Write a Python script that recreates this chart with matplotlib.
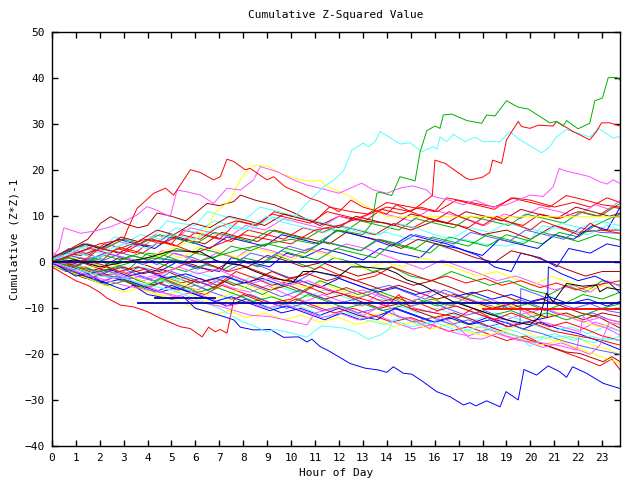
import numpy as np
import matplotlib
matplotlib.use("Agg")
import matplotlib.pyplot as plt

# gnuplot-like palette
RED = '#ff0000'
GRN = '#00b000'
BLU = '#0000ff'
MAG = '#ff50ff'
CYN = '#50ffff'
DRD = '#b00000'
YEL = '#ffff00'
LBL = '#5a5aff'
BLK = '#000000'
DBL = '#0000a8'

hour_ticks = list(range(0, 24))
value_ticks = list(range(-40, 51, 10))

# each series: (hour, cumulative value) vertices
green_top = [(0, 0), (2, -2), (4, 1), (6, 0), (8, 3), (10, 5), (11, 4), (12, 7), (13, 6),
             (13.37, 8.5), (13.58, 15.0), (13.72, 15.2), (14.2, 14.5), (14.55, 18.6), (15.18, 17.7),
             (15.39, 24.0), (15.67, 28.6), (16.01, 29.6), (16.22, 29.1), (16.36, 32.0), (16.71, 32.2),
             (17.34, 30.8), (17.96, 30.2), (18.17, 32.0), (18.52, 31.8), (19.0, 35.1), (19.49, 33.7),
             (19.91, 33.3), (20.81, 30.3), (21.09, 30.6), (21.37, 29.6), (21.51, 30.8), (21.99, 29.0),
             (22.48, 30.2), (22.69, 35.1), (23.01, 35.7), (23.25, 40.1), (23.6, 40.2), (23.73, 39.6)]
cyan_top = [(0, 0.5), (1, 2), (2, 1), (3, 4), (4, 3), (5, 6), (6, 5), (7, 8), (8, 7), (9, 10),
            (10, 9), (10.5, 12), (11.35, 16.4), (11.8, 17.9), (12.19, 19.9), (12.54, 24.4),
            (13.02, 25.9), (13.23, 25.1), (13.51, 26.2), (13.72, 28.4), (14.56, 25.7), (14.97, 26.0),
            (15.46, 24.0), (15.94, 25.1), (16.1, 24.6), (16.22, 27.2), (16.5, 26.2), (16.78, 27.8),
            (17.27, 26.2), (17.68, 27.2), (18.03, 26.2), (18.73, 26.2), (19.14, 28.4), (19.56, 26.6),
            (20.05, 25.1), (20.47, 23.8), (20.81, 25.1), (21.09, 27.3), (21.51, 28.8), (22.2, 27.7),
            (22.5, 27.2), (22.83, 29.1), (23.46, 27.0), (23.73, 27.3)]
red_top = [(0, 0), (1, -1), (2, 3), (3, 2), (4, 5), (5, 4), (6, 2), (7, 4), (8, 6), (9, 5),
           (10, 4), (11, 7), (12, 8), (13, 10), (14, 12), (15, 11), (15.9, 14.5), (16.01, 22.2),
           (16.43, 21.5), (17.3, 18.3), (17.5, 17.9), (18.0, 18.5), (18.3, 19.5), (18.42, 22.2),
           (18.8, 21.5), (19.0, 26.6), (19.49, 30.6), (19.63, 29.5), (19.98, 29.1), (20.33, 29.8),
           (20.95, 29.6), (21.09, 30.6), (21.79, 28.4), (22.48, 26.6), (22.76, 28.4), (22.97, 30.3),
           (23.32, 30.3), (23.73, 29.6)]
red_left_high = [(0, 0), (1, 2), (2, 4), (3, 5), (3.15, 7.0), (3.56, 11.7), (4.26, 15.0), (4.75, 16.1),
                 (5.09, 14.6), (5.79, 20.1), (6.21, 19.5), (6.76, 17.9), (7.04, 18.6), (7.32, 22.4),
                 (7.6, 21.9), (8.08, 20.1), (8.29, 20.4), (8.99, 17.9), (9.27, 18.6), (9.75, 16.4),
                 (10.38, 15.0), (10.79, 13.9), (11.21, 13.2), (12, 11), (12.5, 13.5), (13, 12),
                 (14, 10.5), (14.4, 12.5), (15, 11), (16, 9), (16.6, 11), (17, 10), (18, 8), (18.6, 10),
                 (19, 9), (20, 7), (20.5, 9), (21, 8), (22, 6), (22.5, 8.5), (23, 7), (23.75, 6.3)]
magenta_high = [(0, 1), (0.3, 3), (0.5, 7.5), (1.2, 6.3), (1.8, 6.8), (2.45, 7.7), (3.15, 9.2),
                (3.56, 10.3), (3.98, 12.1), (4.3, 11.5), (4.95, 9.9), (5.23, 15.7), (5.65, 15.3),
                (6.21, 14.6), (6.76, 12.8), (7.32, 16.1), (7.88, 15.7), (8.43, 17.9), (8.71, 20.8),
                (9.41, 19.7), (10.1, 17.9), (10.66, 16.8), (11.21, 16.1), (12.0, 15.0), (12.95, 17.2),
                (13.44, 15.7), (14.0, 15.0), (14.6, 16.2), (15.1, 16.6), (15.67, 15.7), (15.94, 14.3),
                (16.6, 13.5), (17.2, 12.5), (17.7, 13.5), (18.4, 12), (19.0, 12.5), (19.98, 14.6),
                (20.53, 14.3), (20.95, 16.4), (21.2, 20.4), (21.5, 19.8), (21.93, 19.3), (22.48, 18.6),
                (22.9, 17.5), (23.2, 17.0), (23.46, 17.9), (23.73, 17.2)]
yellow_high = [(0, 0), (1, -1), (2, -1), (3, 0), (4, 1), (5, 3), (6, 5), (6.6, 8), (6.76, 10.7),
               (7.0, 11.5), (7.46, 13.5), (7.87, 17.9), (8.29, 20.8), (8.43, 21.0), (8.99, 21.0),
               (9.55, 19.3), (10.38, 17.9), (10.93, 17.5), (11.2, 17.9), (11.5, 16.5), (12.47, 14.3),
               (13.2, 12.0), (13.44, 11.4), (14.0, 9.9), (23.75, 9.9)]
blue_bottom = [(0, 0), (0.5, -1.5), (1, -3), (1.5, -2.5), (2, -4), (3, -6), (3.4, -5), (4, -7),
               (5, -8), (5.5, -7.5), (6, -10), (7, -11.5), (7.6, -12.5), (7.88, -14.1), (8.43, -14.7),
               (9.13, -14.6), (9.68, -16.3), (10.31, -16.2), (10.66, -17.3), (10.87, -16.7),
               (11.21, -18.3), (11.52, -19.1), (11.98, -20.5), (12.47, -22.0), (13.09, -23.0),
               (13.65, -23.4), (14.0, -23.9), (14.27, -22.7), (14.69, -24.1), (15.04, -24.3),
               (15.53, -26.0), (16.08, -28.1), (16.64, -29.2), (17.2, -31.0), (17.47, -30.5),
               (17.72, -31.2), (18.17, -30.1), (18.73, -31.4), (18.98, -28.1), (19.49, -29.9),
               (19.73, -23.3), (20.26, -24.5), (20.74, -22.5), (21.23, -23.8), (21.51, -25.0),
               (21.76, -22.7), (22.34, -24.1), (23.04, -26.3), (23.73, -27.4)]
red_low_left = [(0, -1), (0.5, -2.5), (1, -4), (1.5, -5), (2, -6.5), (2.31, -7.8), (2.87, -9.3),
                (3.42, -9.7), (3.98, -10.7), (4.54, -12.2), (5.37, -14.0), (5.79, -14.4), (6.28, -16.2),
                (6.55, -14.1), (6.83, -15.1), (7.04, -14.6), (7.32, -15.4), (7.6, -8.2), (8.0, -7),
                (9, -9), (10, -8), (11, -5), (11.5, -6), (13, -8), (14, -9.5), (14.5, -7), (15, -10),
                (16, -11), (17, -12), (17.6, -10), (19, -14), (20, -13), (21, -15), (22, -16),
                (23, -17), (23.75, -18)]
black_main = [(0, 0), (1, 0.5), (2, -1), (3, 0), (4, 1), (5, 2.5), (6.2, 2.3), (7, 0), (7.88, -0.6),
              (8.5, -2), (9.27, -3.5), (10.1, -4.2), (10.5, -2), (11, -2), (12, -3), (12.5, -1),
              (13, -1), (14, -1.5), (14.42, -2.4), (14.83, -3.8), (15.5, -5), (16.78, -8.6),
              (17.61, -10.0), (19.0, -12.5), (19.98, -13.6), (20.4, -11.8), (20.67, -6.7),
              (20.95, -8.6), (21.51, -4.6), (22.2, -5.2), (22.76, -4.9), (22.9, -6.4), (23.2, -5.5),
              (23.73, -6.0)]
cyan_low = [(0, 0), (1, -1.5), (2, -3), (3, -3.5), (4, -5), (5, -6), (6, -8), (7, -10), (7.88, -12.7),
            (8.43, -13.8), (8.99, -15.1), (9.3, -14.6), (9.96, -15.3), (10.66, -16.3), (10.94, -15.1),
            (11.28, -13.8), (12.19, -14.3), (12.68, -15.1), (13.23, -16.7), (13.72, -15.8),
            (14.06, -14.7), (14.27, -12.5), (15, -14), (16, -13), (17, -15), (18, -14), (19, -15.5),
            (19.56, -16.2), (19.98, -18.3), (20.5, -16.5), (21.5, -16), (22.2, -16.9), (22.7, -17.5),
            (23.1, -16.5), (23.73, -17)]
magenta_low = [(0, 0), (1, -2), (2, -3.5), (3, -5), (4, -6), (5, -7), (6, -8.5), (7, -9.5),
               (8.29, -11.5), (9.13, -11.8), (10.66, -13.6), (11.0, -11), (12.05, -9.7), (13.02, -11.5),
               (14.0, -8.9), (14.42, -11.8), (15.0, -12.2), (15.8, -14.4), (16.22, -11.8), (16.78, -13.3),
               (17.47, -16.5), (17.96, -16.7), (18.6, -15.5), (19.5, -17), (20.5, -17.5), (21.3, -18.2),
               (21.93, -19.1), (22.2, -11.8), (22.7, -13.5), (23.18, -14.3), (23.73, -15.8)]

# the rest of the bundle
darkred_a = [(0, 1), (0.8, 3), (1.5, 5), (2.04, 8.5), (2.45, 9.9), (3.0, 8.5), (3.6, 7.5), (4.0, 8),
             (4.4, 10.7), (5.0, 10), (5.6, 9), (6.49, 12.8), (7.0, 12.3), (7.6, 13.2), (7.88, 14.6),
             (8.5, 13.5), (9.3, 12.5), (10.0, 11), (10.6, 9.5), (11.2, 8), (12.0, 10), (13.0, 9),
             (14.0, 8.5), (15.0, 7), (16.0, 9), (17.0, 8), (18.0, 6), (19.0, 7), (20.0, 5), (21.0, 8),
             (22.0, 6.5), (23.0, 7), (23.75, 7)]
red_b = [(0, 0), (0.5, -1), (1.2, 1), (2, 0), (2.7, 3), (3.5, 2), (4.2, 5), (5, 4), (5.5, 7), (6.3, 6),
         (7, 5), (7.8, 9), (8.6, 8), (9.3, 11), (10, 10), (11, 9), (11.6, 12), (12.5, 11), (13.2, 10.5),
         (14, 13), (15, 12), (16, 11), (16.5, 14), (17.5, 13), (18.5, 12), (19.3, 14), (20, 13.5),
         (21, 12), (21.8, 13), (22.5, 12), (23.2, 14), (23.75, 13)]
cyan_c = [(0, 1), (0.7, 0), (1.3, 3), (2.0, 2), (2.6, 5.5), (3.2, 5), (4.0, 4), (4.8, 9), (5.3, 8.5),
          (6.0, 8), (6.5, 11), (7.2, 10), (8, 9), (8.7, 12), (9.5, 11), (10.2, 10), (11, 9), (11.8, 8),
          (12.5, 7), (13.3, 6), (14, 6.5), (15, 5), (15.8, 4.5), (16.5, 3), (17.2, 5), (18, 4),
          (19, 3.5), (20, 5), (20.5, 8), (21.5, 7), (22.4, 6), (23.2, 8), (23.75, 7)]
blue_d = [(0, 0), (0.6, -2), (1.4, -1), (2.1, -3), (3.0, -3.5), (3.6, -1), (4.5, -2), (5.2, 0),
          (6.0, -1), (7, -2), (7.5, 1), (8.3, 0), (9.1, -1), (9.8, 2), (10.5, 1), (11.3, 3), (12.1, 2),
          (13, 0.5), (13.7, 3), (14.5, 2), (15.4, 1), (16, 4), (17, 3), (17.8, 1.5), (18.5, -1),
          (19.2, -2), (19.6, 2), (20.4, 1), (21.1, -1), (21.6, 3), (22.5, 2), (23.2, 4), (23.75, 3.4)]
magenta_e = [(0, 0.5), (0.8, -1), (1.5, -2.5), (2.2, -1.5), (3, -3), (3.8, -4), (4.5, -3), (5.3, -5),
             (6.1, -6), (6.8, -4), (7.5, -5.5), (8.3, -6.5), (9, -5), (9.8, -7), (10.6, -8.5),
             (11.3, -7), (12.1, -8.5), (13, -9.5), (13.6, -7), (14.4, -8), (15.2, -10), (16, -11),
             (16.6, -9), (17.4, -10.5), (18.2, -12), (19, -12.5), (19.8, -11), (20.5, -13), (21.3, -14),
             (22, -15), (22.7, -13), (23.3, -14), (23.75, -15)]
green_f = [(0, 0), (0.9, -1.5), (1.6, 1), (2.4, 0), (3.2, -1.5), (4, 2), (4.7, 1.5), (5.5, 0),
           (6.2, 3), (7, 2), (7.9, 0.5), (8.6, -1), (9.4, 1.5), (10.2, 0), (11, -1.5), (11.8, 1),
           (12.6, 0), (13.4, -2), (14.2, -1), (15, -3), (15.9, -4), (16.7, -2), (17.5, -3.5),
           (18.3, -5), (19.1, -4), (20, -6), (20.8, -7), (21.5, -5), (22.3, -6.5), (23, -4), (23.75, -5)]
yellow_g = [(0, -1), (0.7, -2), (1.5, -3.5), (2.3, -5), (3.0, -4), (3.8, -6), (4.6, -7.5), (5.4, -6),
            (6.2, -8), (6.9, -9.5), (7.5, -8), (8.3, -9), (9, -7), (9.8, -8.5), (10.6, -10), (11.4, -9),
            (12.2, -10.5), (13, -12), (13.8, -11), (14.6, -12), (15.4, -13), (16.2, -11.5), (17, -13),
            (17.8, -14), (18.6, -15), (19.4, -14), (20.2, -16), (21, -17), (21.8, -16), (22.6, -18),
            (23.3, -19), (23.75, -20)]
darkred_h = [(0, 0), (0.5, 2), (1.2, 1.5), (2, 3), (2.8, 2), (3.5, 4), (4.2, 3.5), (4.9, 6), (5.6, 5),
             (6.4, 4), (7.1, 6.5), (7.8, 5.5), (8.6, 4.5), (9.3, 7), (10, 6), (10.8, 5), (11.6, 4),
             (12.3, 6.5), (13.1, 5.5), (13.9, 4.5), (14.6, 3), (15.3, 5), (16.1, 4), (16.9, 2.5),
             (17.7, 1), (18.5, 0), (19.2, 2.5), (20, 1.5), (20.8, 0), (21.5, -1.5), (22.3, -3), (23, -2),
             (23.75, -2)]
lightblue_i = [(0, 0.5), (0.7, 3), (1.4, 2), (2.2, 0.5), (2.9, 2), (3.7, 1), (4.4, -0.5), (5.1, 2),
               (5.9, 1), (6.6, -0.5), (7.3, -2), (8, 0), (8.8, -1), (9.5, -2.5), (10.3, -4), (11, -2),
               (11.8, -3), (12.5, -4.5), (13.3, -6), (14.1, -5), (14.8, -6.5), (15.6, -8), (16.4, -6),
               (17.2, -7.5), (18, -9), (18.8, -10), (19.5, -8), (20.3, -9.5), (21, -11), (21.8, -12),
               (22.6, -11), (23.3, -12.5), (23.75, -13)]
red_j = [(0, 0), (0.8, -2), (1.6, -3.5), (2.4, -2), (3.2, -4), (4, -5.5), (4.8, -4), (5.6, -6),
         (6.4, -7), (7.1, -5), (7.9, -6.5), (8.7, -8), (9.5, -9.5), (10.2, -8), (11, -9.5), (11.8, -11),
         (12.6, -10), (13.4, -11.5), (14.2, -13), (15, -12), (15.8, -13.5), (16.6, -15), (17.4, -14),
         (18.2, -15.5), (19, -17), (19.8, -16), (20.6, -18), (21.4, -19.5), (22.2, -21), (22.9, -22.5),
         (23.4, -21), (23.75, -23.4)]
green_k = [(0, 1), (0.6, 0), (1.3, -1.5), (2.1, -3), (2.9, -2), (3.6, -4), (4.3, -5), (5, -3),
           (5.8, -4.5), (6.5, -6), (7.3, -4), (8.1, -5.5), (8.8, -7), (9.6, -5), (10.4, -6.5), (11.2, -4),
           (12, -5.5), (12.8, -7), (13.5, -6), (14.3, -7.5), (15.1, -9), (15.9, -8), (16.7, -9.5),
           (17.5, -7), (18.3, -8.5), (19.1, -10), (19.9, -9), (20.6, -10.5), (21.4, -9), (22.2, -7),
           (23, -8), (23.75, -6.5)]
magenta_l = [(0, 0), (0.8, 1.5), (1.5, 0.5), (2.3, 2), (3.1, 1), (3.9, 0), (4.6, 2.5), (5.4, 1.5),
             (6.1, 0), (6.9, 2), (7.7, 1), (8.4, 3.5), (9.2, 2.5), (10, 1), (10.7, 3), (11.5, 2),
             (12.3, 4), (13.1, 3), (13.9, 1.5), (14.7, 0), (15.5, -1.5), (16.3, 0.5), (17.1, -1),
             (17.9, -2.5), (18.6, -4), (19.4, -3), (20.2, -4.5), (21, -6), (21.8, -5), (22.5, -6.5),
             (23.2, -4), (23.75, -5.3)]
blue_m = [(0, 0), (0.5, -1.5), (1.2, -3), (2, -4.5), (2.7, -3), (3.5, -5), (4.3, -6.5), (5, -5),
          (5.8, -6.5), (6.6, -8), (7.3, -9.5), (8.1, -8), (8.9, -9.5), (9.6, -11), (10.4, -10),
          (11.2, -11.5), (12, -10), (12.8, -11.5), (13.6, -12.5), (14.3, -10), (15.1, -11.5),
          (15.9, -13), (16.6, -12), (17.4, -13.5), (18.2, -12), (18.9, -13), (19.7, -14.5), (20.4, -13),
          (21.2, -14.5), (22, -15.5), (22.8, -17), (23.75, -19)]
cyan_n = [(0, 0), (0.7, -1), (1.5, 0.5), (2.2, -1), (3, -2.5), (3.8, -1), (4.5, -2.5), (5.3, -4),
          (6, -2), (6.8, -3.5), (7.6, -5), (8.4, -3), (9.1, -4.5), (9.9, -6), (10.7, -7.5), (11.4, -6),
          (12.2, -7.5), (13, -9), (13.8, -8), (14.5, -9.5), (15.3, -11), (16.1, -10), (16.9, -11.5),
          (17.7, -12.5), (18.5, -11), (19.3, -12), (20.1, -13.5), (20.9, -15), (21.7, -14),
          (22.4, -15.5), (23.1, -14), (23.75, -15)]
darkred_o = [(0, 0.5), (0.6, -1), (1.3, 0.5), (2.1, -1), (2.8, 1), (3.6, 0), (4.4, -1.5), (5.1, 0.5),
             (5.9, -0.5), (6.7, -2), (7.4, 0), (8.2, -1), (9, 1.5), (9.7, 0.5), (10.5, -1), (11.3, 0),
             (12, -1.5), (12.8, -3), (13.6, -2), (14.3, -3.5), (15.1, -5), (15.9, -4), (16.7, -5.5),
             (17.4, -7), (18.2, -6), (19, -7.5), (19.8, -9), (20.5, -8), (21.3, -9.5), (22.1, -11),
             (22.9, -12), (23.75, -14.3)]
yellow_p = [(0, 0), (0.8, 1), (1.6, 0), (2.4, -1.5), (3.1, 0.5), (3.9, -0.5), (4.7, 2), (5.4, 1),
            (6.2, 3.5), (7, 2.5), (7.7, 1), (8.5, 3), (9.3, 2), (10, 0.5), (10.8, 2.5), (11.6, 1.5),
            (12.3, 0), (13.1, -1.5), (13.9, 0), (14.7, -1), (15.4, 1), (16.2, 0), (17, -1.5),
            (17.8, -3), (18.6, -2), (19.3, -3.5), (20.1, -5), (20.9, -3), (21.7, -4.5), (22.4, -6),
            (23.1, -5), (23.75, -6)]
red_q = [(0, 1), (0.7, 2.5), (1.5, 1.5), (2.2, 4), (3, 3), (3.8, 2), (4.5, 4.5), (5.2, 3.5), (6, 6.5),
         (6.8, 5.5), (7.5, 4.5), (8.2, 7), (9, 6), (9.7, 5), (10.5, 7.5), (11.3, 6.5), (12, 8),
         (12.8, 7), (13.5, 6), (14.3, 8.5), (15.1, 7.5), (15.8, 9.5), (16.6, 8.5), (17.4, 7.5),
         (18.1, 10), (18.9, 9), (19.7, 8), (20.4, 10.5), (21.2, 9.5), (22, 11), (22.8, 10), (23.4, 12),
         (23.75, 11.7)]
green_r = [(0, 0), (0.9, -1), (1.7, 0.5), (2.5, -0.5), (3.3, 1.5), (4.1, 0.5), (4.9, -1), (5.6, -2),
           (6.4, -0.5), (7.2, -1.5), (8, 1), (8.8, 0), (9.6, 2.5), (10.3, 1.5), (11.1, 0.5), (11.9, 3),
           (12.7, 2), (13.5, 1), (14.2, 4), (15, 3), (15.8, 2), (16.6, 5.5), (17.4, 4.5), (18.2, 3.5),
           (19, 6), (19.7, 5), (20.5, 4), (21.2, 6.5), (22, 5.5), (22.7, 8), (23.3, 9.5), (23.75, 10.5)]
blue_s = [(0, 0), (0.6, 2), (1.3, 4), (2, 3), (2.8, 5), (3.5, 4), (4.3, 3), (5, 5.5), (5.8, 4.5),
          (6.6, 3), (7.3, 5.5), (8.1, 4.5), (8.9, 3.5), (9.6, 6), (10.4, 5), (11.2, 4), (11.9, 7),
          (12.7, 6), (13.4, 5), (14.2, 3.5), (15, 6), (15.7, 5), (16.5, 4), (17.3, 2.5), (18, 1.5),
          (18.7, 5), (19.5, 4), (20.3, 3), (21, 6), (21.8, 5), (22.6, 8), (23.2, 7), (23.75, 12)]
magenta_t = [(0, 2), (0.6, 1), (1.3, 3.5), (2.1, 2.5), (2.8, 4.5), (3.6, 3.5), (4.3, 6), (5.1, 5),
             (5.8, 7.5), (6.6, 6.5), (7.4, 5.5), (8.1, 8), (8.9, 7), (9.7, 9.5), (10.4, 8.5), (11.2, 7.5),
             (12, 10), (12.7, 9), (13.5, 11), (14.3, 10), (15, 9), (15.8, 11.5), (16.6, 10.5),
             (17.3, 9.5), (18.1, 8), (18.9, 10.5), (19.6, 9.5), (20.4, 12), (21.2, 11), (21.9, 10),
             (22.7, 12.5), (23.3, 11.5), (23.75, 13.5)]
cyan_u = [(0, 0), (0.8, -1.5), (1.5, -3), (2.3, -2), (3.1, -3.5), (3.8, -5), (4.6, -4), (5.4, -5.5),
          (6.2, -7), (6.9, -8.5), (7.7, -7), (8.5, -8.5), (9.2, -10), (10, -9), (10.8, -10.5),
          (11.5, -12), (12.3, -11), (13.1, -12.5), (13.9, -13.5), (14.6, -12), (15.4, -13.5),
          (16.2, -12.5), (17, -14), (17.8, -15.5), (18.6, -14), (19.4, -15), (20.2, -16.5),
          (21, -15.5), (21.8, -17), (22.5, -16), (23.2, -17), (23.75, -16)]
darkred_v = [(0, -0.5), (0.7, -2), (1.4, -3.5), (2.2, -2.5), (3, -4), (3.7, -5.5), (4.5, -4.5),
             (5.3, -6), (6, -4), (6.8, -5.5), (7.6, -3), (8.3, -4.5), (9.1, -6), (9.9, -5), (10.6, -6.5),
             (11.4, -8), (12.2, -7), (12.9, -8.5), (13.7, -10), (14.5, -9), (15.2, -10.5), (16, -12),
             (16.8, -11), (17.6, -12.5), (18.3, -14), (19.1, -15.5), (19.98, -16.9), (20.81, -18.3),
             (21.5, -19.5), (22.06, -19.8), (23.04, -21.6), (23.4, -20.5), (23.75, -21.6)]
red_w = [(0, 0.5), (0.8, -0.5), (1.5, -2), (2.3, -1), (3.1, -2.5), (3.9, -1.5), (4.6, -3), (5.4, -4.5),
         (6.2, -3.5), (6.9, -5), (7.7, -2), (8.5, -3.5), (9.2, -5), (10, -4), (10.8, -5.5), (11.5, -7),
         (12.3, -5.5), (13.1, -7), (13.8, -8.5), (14.6, -7.5), (15.4, -9), (16.1, -10.5), (16.9, -9.5),
         (17.7, -11), (18.5, -12.5), (19.2, -11), (20, -12.5), (20.8, -14), (21.5, -13), (22.3, -14.5),
         (23, -16), (23.75, -17)]
lightblue_x = [(0, -0.5), (0.6, -2), (1.4, -1), (2.1, -2.5), (2.9, -4), (3.7, -3), (4.4, -4.5),
               (5.2, -6), (6, -5), (6.7, -6.5), (7.5, -8), (8.3, -7), (9, -8.5), (9.8, -10), (10.5, -9),
               (11.3, -10.5), (12.1, -9.5), (12.8, -11), (13.6, -10), (14.4, -11.5), (15.1, -13),
               (15.9, -12), (16.7, -13.5), (17.4, -12.5), (18.2, -14), (19, -13), (19.7, -14.5),
               (20.5, -15.5), (21.3, -17), (22, -18), (22.8, -19), (23.75, -20)]
green_y = [(0, 1), (0.7, 2.5), (1.5, 4), (2.2, 3), (3, 5), (3.7, 4), (4.5, 6), (5.3, 5), (6, 4),
           (6.8, 6.5), (7.6, 5.5), (8.3, 4.5), (9.1, 7), (9.9, 6), (10.6, 5), (11.4, 7.5), (12.2, 6.5),
           (12.9, 9), (13.7, 8), (14.5, 7), (15.2, 9.5), (16, 8.5), (16.8, 7.5), (17.5, 10), (18.3, 9),
           (19.1, 8), (19.8, 10.5), (20.6, 9.5), (21.4, 8.5), (22.1, 11), (22.9, 10), (23.75, 12.8)]
yellow_z = [(0, 0), (0.9, -1), (1.7, -2.5), (2.5, -1.5), (3.3, -3), (4, -4.5), (4.8, -3.5), (5.6, -5),
            (6.3, -6.5), (6.76, -8), (7.4, -7), (8.2, -5), (9, -6.5), (9.7, -4), (10.5, -5.5),
            (11.3, -4.5), (12, -6), (12.8, -7.5), (13.6, -6.5), (14.3, -8), (15.1, -9.5), (15.9, -8.5),
            (16.6, -7), (17.4, -8.5), (18.2, -10), (19, -9), (19.7, -10.5), (20.5, -12), (21.3, -11),
            (22, -12.5), (22.8, -14), (23.75, -13)]
blue_aa = [(0, 0), (0.7, -1.5), (1.4, -3), (2.2, -4.5), (3, -3.5), (3.7, -5), (4.5, -6.5), (5.2, -5.5),
           (6, -7), (6.8, -8.5), (7.5, -7.5), (8.3, -9), (9.1, -10.5), (9.8, -9.5), (10.6, -11),
           (11.4, -12.5), (12.1, -11), (12.9, -12.5), (13.7, -11.5), (14.4, -10), (15.2, -11.5),
           (16, -13), (16.8, -12), (17.5, -13.5), (18.3, -12.5), (19.1, -14), (19.8, -13), (20.7, -12),
           (20.75, -1), (21.3, -2.5), (22, -4), (22.7, -3), (23.3, -4.5), (23.75, -6.7)]
magenta_ab = [(0, 0), (0.6, -1), (1.3, -2.5), (2.1, -4), (2.8, -3), (3.6, -4.5), (4.4, -6), (5.1, -7.5),
              (5.9, -6.5), (6.7, -8), (7.4, -9.5), (8.2, -8.5), (9, -10), (9.7, -9), (10.5, -10.5),
              (11.3, -12), (12, -11), (12.8, -12.5), (13.6, -11.5), (14.3, -13), (15.1, -14.5),
              (15.9, -13.5), (16.6, -15), (17.4, -16), (18.2, -14.5), (19, -16), (19.7, -17),
              (20.5, -18.5), (21.3, -17.5), (22, -19), (22.5, -20), (22.9, -18), (23.3, -13),
              (23.75, -13.5)]
darkred_ac = [(0, 0), (0.7, 1), (1.5, -0.5), (2.3, -2), (3, -1), (3.8, -2.5), (4.6, -1.5), (5.3, -3),
              (6.1, -4.5), (6.9, -3.5), (7.6, -5), (8.4, -4), (9.2, -2), (9.9, -3.5), (10.7, -2.5),
              (11.5, -4), (12.2, -3), (13, -4.5), (13.8, -6), (14.5, -5), (15.3, -6.5), (16.1, -8),
              (16.8, -7), (17.6, -8.5), (18.4, -10), (19.2, -9), (19.9, -10.5), (20.7, -12), (21.5, -11),
              (22.2, -12.5), (23, -11), (23.75, -11.8)]
red_ad = [(0, 0), (0.8, 1.5), (1.6, 3), (2.3, 2), (3.1, 3.5), (3.9, 5), (4.6, 4), (5.4, 6), (6.2, 5),
          (6.9, 7.5), (7.7, 9), (8.5, 8), (9.2, 10.5), (10, 9.5), (10.8, 8.5), (11.5, 11), (12.3, 10),
          (13.1, 9), (13.8, 11.5), (14.6, 10.5), (15.4, 12), (16.1, 11), (16.9, 13.5), (17.7, 12.5),
          (18.5, 11.5), (19.2, 14), (20, 13), (20.8, 12), (21.5, 14.5), (22.3, 13.5), (23, 12.5),
          (23.75, 12)]
cyan_ae = [(0, 0.5), (0.7, 2), (1.4, 3.5), (2.2, 2.5), (3, 4), (3.7, 6), (4.5, 5), (5.2, 7.5), (6, 6.5),
           (6.8, 9), (7.5, 8), (8.3, 7), (9.1, 9.5), (9.8, 8.5), (10.6, 7.5), (11.4, 6.5), (12.1, 8),
           (12.9, 7), (13.7, 6), (14.4, 8.5), (15.2, 7.5), (16, 6), (16.7, 5), (17.5, 7.5), (18.3, 6.5),
           (19, 8.5), (19.8, 7.5), (20.6, 6.5), (21.3, 8.5), (22.1, 7.5), (22.8, 9), (23.75, 8)]
blue_af = [(0, -0.5), (0.6, 0.5), (1.3, -1), (2, -2.5), (2.8, -1), (3.5, -2.5), (4.3, -4), (5, -2),
           (5.8, -3.5), (6.6, -5), (7.3, -3), (8.1, -4.5), (8.9, -6), (9.6, -7.5), (10.4, -6),
           (11.2, -7.5), (11.9, -9), (12.7, -8), (13.5, -6.5), (14.2, -8), (15, -9.5), (15.8, -8.5),
           (16.5, -10), (17.3, -11.5), (18.1, -10.5), (18.8, -12), (19.56, -13.6), (19.6, -5.7),
           (20.3, -7), (21, -8.5), (21.8, -10), (22.5, -9), (23.2, -10.5), (23.75, -11)]
lightblue_ag = [(0, 0), (0.7, 1.5), (1.5, 0.5), (2.2, 2), (3, 1), (3.8, -0.5), (4.5, 1), (5.3, 0),
                (6.1, -1.5), (6.8, 0.5), (7.6, -0.5), (8.3, 2), (9.1, 1), (9.9, 3.5), (10.6, 2.5),
                (11.4, 4.5), (12.2, 3.5), (12.9, 2.5), (13.7, 5), (14.5, 4), (15.2, 6), (16, 5), (16.8, 4),
                (17.5, 6.5), (18.3, 5.5), (19.1, 4.5), (19.8, 7), (20.6, 6), (21.4, 5), (22.1, 7.5),
                (22.9, 6.5), (23.75, 6.3)]
green_ah = [(0, -0.5), (0.8, -2), (1.5, -3.5), (2.3, -5), (3.1, -4), (3.8, -5.5), (4.6, -3.5),
            (5.4, -5), (6.1, -6.5), (6.9, -5.5), (7.7, -7), (8.4, -8.5), (9.2, -7.5), (10, -9),
            (10.7, -7), (11.5, -8.5), (12.3, -10), (13, -9), (13.8, -10.5), (14.6, -9.5), (15.3, -8),
            (16.1, -9.5), (16.9, -8.5), (17.6, -10), (18.4, -11.5), (19.2, -10.5), (19.9, -12),
            (20.7, -11), (21.5, -12.5), (22.2, -11.5), (23, -10), (23.75, -9)]
darkred_ai = [(0, 1), (0.6, 2.5), (1.4, 4), (2.1, 3), (2.9, 5.5), (3.6, 4.5), (4.4, 7), (5.1, 6),
              (5.9, 8.5), (6.6, 7.5), (7.4, 10), (8.2, 9), (8.9, 8), (9.7, 10.5), (10.4, 9.5),
              (11.2, 8.5), (12, 7.5), (12.7, 10), (13.5, 9), (14.3, 8), (15, 10.5), (15.8, 9.5),
              (16.5, 8.5), (17.3, 11), (18.1, 10), (18.8, 9), (19.6, 11.5), (20.3, 10.5), (21.1, 9.5),
              (21.9, 12), (22.6, 11), (23.3, 10), (23.75, 10.7)]
yellow_aj = [(0, -0.5), (0.7, -2), (1.5, -3.5), (2.2, -5), (3, -6.5), (3.7, -5.5), (4.5, -7),
             (5.3, -8.5), (6, -10), (6.76, -11.5), (7.4, -10.5), (8.1, -12), (8.9, -11), (9.7, -12.5),
             (10.4, -11.5), (11.2, -13), (12, -12), (12.7, -13.5), (13.5, -12.5), (14.3, -14), (15, -13),
             (15.8, -14.5), (16.6, -13.5), (17.3, -15), (18.1, -16), (18.9, -15), (19.6, -16.5),
             (20.4, -18), (21.2, -17), (21.9, -18.5), (22.7, -20), (23.75, -22)]
blue_b = [(0, 0), (0.8, -1), (1.6, -2.5), (2.4, -1.5), (3.2, -3), (4, -2), (4.8, -3.5), (5.6, -2.5),
          (6.4, -4), (7.2, -3), (8, -4.5), (8.8, -3.5), (9.6, -5), (10.4, -4), (11.2, -5.5), (12, -3.5),
          (12.8, -5), (13.6, -6.5), (14.4, -5.5), (15.2, -7), (16, -6), (16.8, -7.5), (17.6, -6.5),
          (18.4, -8), (19.2, -7), (20, -8.5), (20.8, -7.5), (21.6, -9), (22.4, -8), (23.2, -9.5),
          (23.75, -8.5)]
red_ak = [(0, 0), (0.6, -1), (1.3, 0.5), (2.1, -0.5), (2.8, -2), (3.6, -1), (4.4, -2.5), (5.1, -1.5),
          (5.9, 0.5), (6.6, -0.5), (7.4, -2), (8.1, -1), (8.9, -2.5), (9.7, -4), (10.4, -3), (11.2, -1),
          (11.9, -2.5), (12.7, -4), (13.5, -3), (14.2, -1), (15, -2.5), (15.8, -4), (16.5, -3),
          (17.3, -4.5), (18.1, -3.5), (18.8, -5), (19.6, -4), (20.4, -5.5), (21.1, -4.5), (21.9, -6),
          (22.7, -5), (23.75, -4)]
magenta_al = [(0, -1), (0.7, 0), (1.5, -1.5), (2.3, -3), (3, -2), (3.8, -3.5), (4.6, -2.5), (5.3, -1),
              (6.1, -2.5), (6.9, -1.5), (7.6, -3), (8.4, -4.5), (9.1, -3.5), (9.9, -5), (10.7, -4),
              (11.4, -5.5), (12.2, -7), (13, -6), (13.7, -7.5), (14.5, -9), (15.3, -8), (16, -6),
              (16.8, -7.5), (17.6, -9), (18.3, -8), (19.1, -9.5), (19.9, -11), (20.6, -10), (21.4, -11.5),
              (22.2, -13), (22.9, -12), (23.75, -13)]
green_am = [(0, 0), (0.7, 1), (1.4, 0), (2.2, 1.5), (2.9, 0.5), (3.7, 2), (4.5, 1), (5.2, 3), (6, 2),
            (6.8, 1), (7.5, 3.5), (8.3, 2.5), (9, 4), (9.8, 3), (10.6, 2), (11.3, 4.5), (12.1, 3.5),
            (12.9, 2.5), (13.6, 5), (14.4, 4), (15.2, 3), (15.9, 5.5), (16.7, 4.5), (17.4, 3.5), (18.2, 6),
            (19, 5), (19.7, 4), (20.5, 6.5), (21.3, 5.5), (22, 4.5), (22.8, 6), (23.75, 4.8)]

# flat series
blue_flat_zero = [(0.0, 0.0), (23.75, 0.0)]
blue_flat_low = [(3.6, -8.85), (23.75, -8.85)]
blue_flat_short = [(4.3, -7.8), (6.8, -7.8)]
red_flat = [(18.0, -10.2), (23.75, -10.2)]

thin = [
    (DRD, darkred_a), (RED, red_b), (CYN, cyan_c), (BLU, blue_d), (MAG, magenta_e), (GRN, green_f),
    (YEL, yellow_g), (DRD, darkred_h), (LBL, lightblue_i), (RED, red_j), (GRN, green_k),
    (MAG, magenta_l), (BLU, blue_m), (CYN, cyan_n), (DRD, darkred_o), (YEL, yellow_p), (RED, red_q),
    (GRN, green_r), (BLU, blue_s), (MAG, magenta_t), (CYN, cyan_u), (DRD, darkred_v), (RED, red_w),
    (LBL, lightblue_x), (GRN, green_y), (YEL, yellow_z), (BLU, blue_aa), (MAG, magenta_ab),
    (DRD, darkred_ac), (RED, red_ad), (CYN, cyan_ae), (LBL, blue_af), (LBL, lightblue_ag),
    (GRN, green_ah), (DRD, darkred_ai), (YEL, yellow_aj), (BLU, blue_b), (RED, red_ak),
    (MAG, magenta_al), (GRN, green_am),
    (YEL, yellow_high), (MAG, magenta_high), (CYN, cyan_top), (RED, red_left_high), (RED, red_top),
    (GRN, green_top), (BLU, blue_bottom), (RED, red_low_left), (CYN, cyan_low), (MAG, magenta_low),
    (BLK, black_main),
]
thick = [(DBL, blue_flat_zero), (DBL, blue_flat_low), (DBL, blue_flat_short), (RED, red_flat)]

plt.rcParams['font.family'] = 'DejaVu Sans Mono'
fig = plt.figure(figsize=(6.4, 4.8), dpi=100)
ax = fig.add_axes([0.081, 0.070, 0.888, 0.863])

for c, pts in thin:
    a = np.array(pts)
    ax.plot(a[:, 0], a[:, 1], color=c, lw=0.7)
for c, pts in thick:
    a = np.array(pts)
    ax.plot(a[:, 0], a[:, 1], color=c, lw=1.3)

ax.set_xlim(0, 23.75)
ax.set_ylim(-40, 50)
ax.set_xticks(hour_ticks)
ax.set_yticks(value_ticks)
ax.tick_params(direction='in', length=4.5, width=1, top=True, right=True, labelsize=8, pad=5)
for s in ax.spines.values():
    s.set_linewidth(1.0)
ax.set_title("Cumulative Z-Squared Value", fontsize=8, pad=10)
ax.set_xlabel("Hour of Day", fontsize=8, labelpad=3)
ax.set_ylabel("Cumulative (Z*Z)-1", fontsize=8, labelpad=4)

fig.savefig("out.png", dpi=100)
